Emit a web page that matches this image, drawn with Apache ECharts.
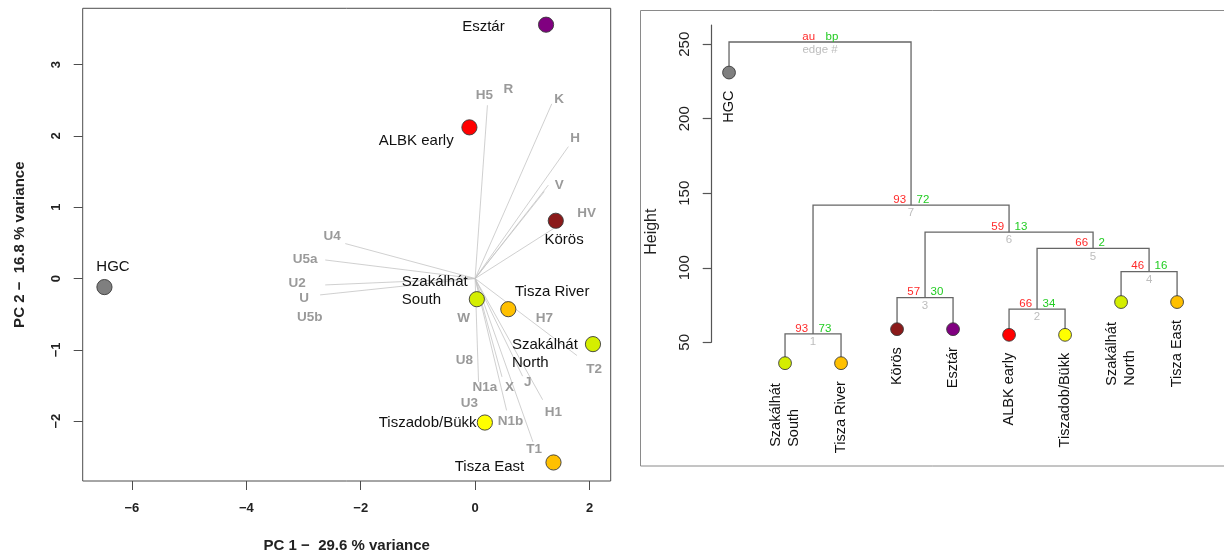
<!DOCTYPE html>
<html><head><meta charset="utf-8">
<script src="https://cdn.jsdelivr.net/npm/echarts@6/dist/echarts.min.js"></script>
<style>html,body{margin:0;padding:0;background:#fff}#c{width:1224px;height:556px}</style>
</head><body><div id="c"></div>
<script>
// ================= DATA =================
// PCA biplot: group scores
const groupNames = ['HGC','Esztár','ALBK early','Körös','Szakálhát\nSouth','Tisza River','Szakálhát\nNorth','Tiszadob/Bükk','Tisza East'];
const pc1Scores = [-6.48, 1.24, -0.10, 1.41, 0.03, 0.58, 2.06, 0.17, 1.37];
const pc2Scores = [-0.12, 3.56, 2.12, 0.81, -0.29, -0.43, -0.92, -2.02, -2.58];
const groupColors = ['#7f7f7f','#800080','#ff0000','#8b1a1a','#d4ee00','#ffc000','#d4ee00','#ffff00','#ffc000'];

// PCA biplot: variable (haplogroup) label positions
const varNames = ['H5','R','K','H','V','HV','U4','U5a','U2','U','U5b','W','H7','T2','U8','N1a','X','J','H1','U3','N1b','T1'];
const varLabelX = [0.16, 0.58, 1.47, 1.75, 1.47, 1.95, -2.50, -2.97, -3.11, -2.99, -2.89, -0.20, 1.21, 2.08, -0.19, 0.17, 0.60, 0.92, 1.37, -0.10, 0.62, 1.03];
const varLabelY = [2.57, 2.66, 2.51, 1.96, 1.31, 0.91, 0.59, 0.27, -0.07, -0.28, -0.55, -0.56, -0.56, -1.28, -1.14, -1.53, -1.52, -1.45, -1.87, -1.75, -2.00, -2.39];
// PCA biplot: loading line end points (lines start at the origin)
const arrowEndX = [0.215, 1.34, 1.63, 1.28, 1.21, 1.37, -2.27, -2.62, -2.62, -2.71, 0.06, 0.47, 0.55, 1.01, 0.83, 1.18, 1.78];
const arrowEndY = [2.43, 2.45, 1.85, 1.31, 1.22, 0.70, 0.49, 0.26, -0.09, -0.23, -1.45, -1.38, -1.85, -2.29, -1.37, -1.70, -1.08];

const pcTicksX = [-6, -4, -2, 0, 2];
const pcTicksY = [-2, -1, 0, 1, 2, 3];
const pcXTitle = 'PC 1 \u2212  29.6 % variance';
const pcYTitle = 'PC 2 \u2212  16.8 % variance';

// Dendrogram (leaf order left to right)
const leafNames = ['HGC','Szakálhát\nSouth','Tisza River','Körös','Esztár','ALBK early','Tiszadob/Bükk','Szakálhát\nNorth','Tisza East'];
const leafColors = ['#7f7f7f','#d4ee00','#ffc000','#8b1a1a','#800080','#ff0000','#ffff00','#d4ee00','#ffc000'];
const leafHeights = [231, 36, 36, 58.8, 58.8, 55, 55, 77, 77];
// merges: negative = leaf (1-based position), positive = earlier merge
const mergeLeft  = [-2, -6, -4, -8, 2, 3, 1, -1];
const mergeRight = [-3, -7, -5, -9, 4, 5, 6, 7];
const mergeHeights = [55.6, 72.2, 80.0, 97.4, 113.0, 123.9, 142.0, 251.5];
const mergeAU = ['93','66','57','46','66','59','93','au'];
const mergeBP = ['73','34','30','16','2','13','72','bp'];
const mergeEdge = ['1','2','3','4','5','6','7','edge #'];
const heightTicks = [50, 100, 150, 200, 250];

// ================= LAYOUT =================
const FF = '"Liberation Sans", Arial, Helvetica, sans-serif';
const G0 = {left: 82.7, top: 8.3, width: 528, height: 472.7};
const G1 = {left: 711.1, top: 25, width: 483.9, height: 317.3};
// pixel offsets of group labels relative to their point
const pointLabelLayout = [
  {dx: 8.6, dy: -20.7, align: 'center'},
  {dx: -41.4, dy: 2.4, align: 'right'},
  {dx: -15.7, dy: 13, align: 'right'},
  {dx: 8.3, dy: 19.3, align: 'center'},
  {dx: -75, dy: -8, align: 'left'},
  {dx: 6.7, dy: -17.6, align: 'left'},
  {dx: -81, dy: 9.5, align: 'left'},
  {dx: -8.3, dy: 0.4, align: 'right'},
  {dx: -29.3, dy: 4.7, align: 'right'}
];

// tree geometry from merges
const mergeX = [];
function childPos(c) {
  if (c < 0) return [-c, leafHeights[-c - 1]];
  return [mergeX[c - 1], mergeHeights[c - 1]];
}
const treeData = [];
for (let i = 0; i < mergeLeft.length; i++) {
  const a = childPos(mergeLeft[i]), b = childPos(mergeRight[i]);
  mergeX[i] = (a[0] + b[0]) / 2;
  treeData.push([a[0], b[0], a[1], b[1], mergeHeights[i], i]);
}

const mctx = document.createElement('canvas').getContext('2d');
function textW(t, font) { mctx.font = font; return mctx.measureText(t).width; }

const chart = echarts.init(document.getElementById('c'), null, {renderer: 'canvas', width: 1224, height: 556});

const option = {
  animation: false,
  backgroundColor: '#ffffff',
  grid: [
    {left: G0.left, top: G0.top, width: G0.width, height: G0.height, show: true, borderColor: '#4d4d4d', borderWidth: 1, backgroundColor: 'transparent', containLabel: false, outerBoundsMode: 'none'},
    {left: G1.left, top: G1.top, width: G1.width, height: G1.height, show: false, containLabel: false, outerBoundsMode: 'none'}
  ],
  xAxis: [
    {gridIndex: 0, type: 'value', min: -6.86, max: 2.37, splitLine: {show: false},
     axisLine: {show: false, onZero: false},
     axisTick: {show: true, customValues: pcTicksX, length: 9, inside: false, lineStyle: {color: '#4d4d4d', width: 1}},
     axisLabel: {show: true, customValues: pcTicksX, formatter: v => String(v).replace('-', '\u2212'), fontFamily: FF, fontWeight: 'bold', fontSize: 13, color: '#222', margin: 21}},
    {gridIndex: 1, type: 'value', min: 0.68, max: 9.32, show: false, axisLine: {onZero: false}, splitLine: {show: false}}
  ],
  yAxis: [
    {gridIndex: 0, type: 'value', min: -2.84, max: 3.79, splitLine: {show: false},
     axisLine: {show: false, onZero: false},
     axisTick: {show: true, customValues: pcTicksY, length: 9, inside: false, lineStyle: {color: '#4d4d4d', width: 1}},
     axisLabel: {show: true, customValues: pcTicksY, rotate: 90, formatter: v => String(v).replace('-', '\u2212'), fontFamily: FF, fontWeight: 'bold', fontSize: 13, color: '#222', margin: 20}},
    {gridIndex: 1, type: 'value', min: 50, max: 262.9, splitLine: {show: false},
     axisLine: {show: true, onZero: false, lineStyle: {color: '#555', width: 1.2}},
     axisTick: {show: true, customValues: heightTicks, length: 8.4, inside: false, lineStyle: {color: '#555', width: 1.2}},
     axisLabel: {show: true, customValues: heightTicks, rotate: 90, fontFamily: FF, fontSize: 15, color: '#222', margin: 19}}
  ],
  graphic: [
    {type: 'rect', silent: true, shape: {x: 640.5, y: 10.5, width: 620, height: 455.5}, style: {fill: 'none', stroke: '#8a8a8a', lineWidth: 1}},
    {type: 'text', x: 346.7, y: 545.7, style: {text: pcXTitle, font: 'bold 15px ' + FF, fill: '#222', align: 'center', verticalAlign: 'middle'}},
    {type: 'text', x: 20, y: 244.7, rotation: Math.PI / 2, style: {text: pcYTitle, font: 'bold 15px ' + FF, fill: '#222', align: 'center', verticalAlign: 'middle'}},
    {type: 'text', x: 651.7, y: 231.7, rotation: Math.PI / 2, style: {text: 'Height', font: '16px ' + FF, fill: '#222', align: 'center', verticalAlign: 'middle'}}
  ],
  series: [
    // loading lines
    {type: 'custom', xAxisIndex: 0, yAxisIndex: 0, clip: false, silent: true,
     data: arrowEndX.map((x, i) => [x, arrowEndY[i]]),
     renderItem: (params, api) => {
       const o = api.coord([0, 0]);
       const e = api.coord([api.value(0), api.value(1)]);
       return {type: 'line', shape: {x1: o[0], y1: o[1], x2: e[0], y2: e[1]}, style: {stroke: '#c4c4c4', lineWidth: 0.8}};
     }},
    // variable labels
    {type: 'custom', xAxisIndex: 0, yAxisIndex: 0, clip: false, silent: true,
     data: varLabelX.map((x, i) => [x, varLabelY[i]]),
     renderItem: (params, api) => {
       const p = api.coord([api.value(0), api.value(1)]);
       return {type: 'text', x: p[0], y: p[1], style: {text: varNames[params.dataIndex], font: 'bold 13.5px ' + FF, fill: '#9a9a9a', align: 'center', verticalAlign: 'middle'}};
     }},
    // group points + labels
    {type: 'custom', xAxisIndex: 0, yAxisIndex: 0, clip: false, silent: true,
     data: pc1Scores.map((x, i) => [x, pc2Scores[i]]),
     renderItem: (params, api) => {
       const i = params.dataIndex;
       const p = api.coord([api.value(0), api.value(1)]);
       const L = pointLabelLayout[i];
       return {type: 'group', children: [
         {type: 'circle', shape: {cx: p[0], cy: p[1], r: 7.6}, style: {fill: groupColors[i], stroke: '#3a3a3a', lineWidth: 0.9}},
         {type: 'text', x: p[0] + L.dx, y: p[1] + L.dy, style: {text: groupNames[i], font: '15px ' + FF, fill: '#111', align: L.align, verticalAlign: 'middle', lineHeight: 18}}
       ]};
     }},
    // dendrogram branches + au/bp/edge labels
    {type: 'custom', xAxisIndex: 1, yAxisIndex: 1, clip: false, silent: true,
     data: treeData,
     renderItem: (params, api) => {
       const i = api.value(5);
       const a = api.coord([api.value(0), api.value(2)]);
       const a2 = api.coord([api.value(0), api.value(4)]);
       const b2 = api.coord([api.value(1), api.value(4)]);
       const b = api.coord([api.value(1), api.value(3)]);
       const cx = (a2[0] + b2[0]) / 2, cy = a2[1];
       return {type: 'group', children: [
         {type: 'polyline', shape: {points: [a, a2, b2, b]}, style: {stroke: '#666', lineWidth: 1.3, fill: 'none'}},
         {type: 'text', x: cx - 5, y: cy - 5.5, style: {text: mergeAU[i], font: '11.5px ' + FF, fill: '#ff2a2a', align: 'right', verticalAlign: 'middle'}},
         {type: 'text', x: cx + 5.5, y: cy - 5.5, style: {text: mergeBP[i], font: '11.5px ' + FF, fill: '#22cc22', align: 'left', verticalAlign: 'middle'}},
         {type: 'text', x: cx, y: cy + 8, style: {text: mergeEdge[i], font: '11.5px ' + FF, fill: '#bdbdbd', align: 'center', verticalAlign: 'middle'}}
       ]};
     }},
    // dendrogram leaves + rotated labels
    {type: 'custom', xAxisIndex: 1, yAxisIndex: 1, clip: false, silent: true,
     data: leafHeights.map((h, i) => [i + 1, h]),
     renderItem: (params, api) => {
       const i = params.dataIndex;
       const p = api.coord([api.value(0), api.value(1)]);
       const font = '14.5px ' + FF;
       const lines = leafNames[i].split('\n');
       const maxW = Math.max.apply(null, lines.map(t => textW(t, font)));
       const top = p[1] + (lines.length > 1 ? 20 : 18);
       const children = [{type: 'circle', shape: {cx: p[0], cy: p[1], r: 6.4}, style: {fill: leafColors[i], stroke: '#3a3a3a', lineWidth: 0.9}}];
       lines.forEach((t, j) => {
         children.push({type: 'text', x: p[0] + (j - (lines.length - 1) / 2) * 18, y: top + maxW, rotation: Math.PI / 2,
           style: {text: t, font: font, fill: '#111', align: 'left', verticalAlign: 'middle'}});
       });
       return {type: 'group', children: children};
     }}
  ]
};
chart.setOption(option);
</script>
</body></html>
